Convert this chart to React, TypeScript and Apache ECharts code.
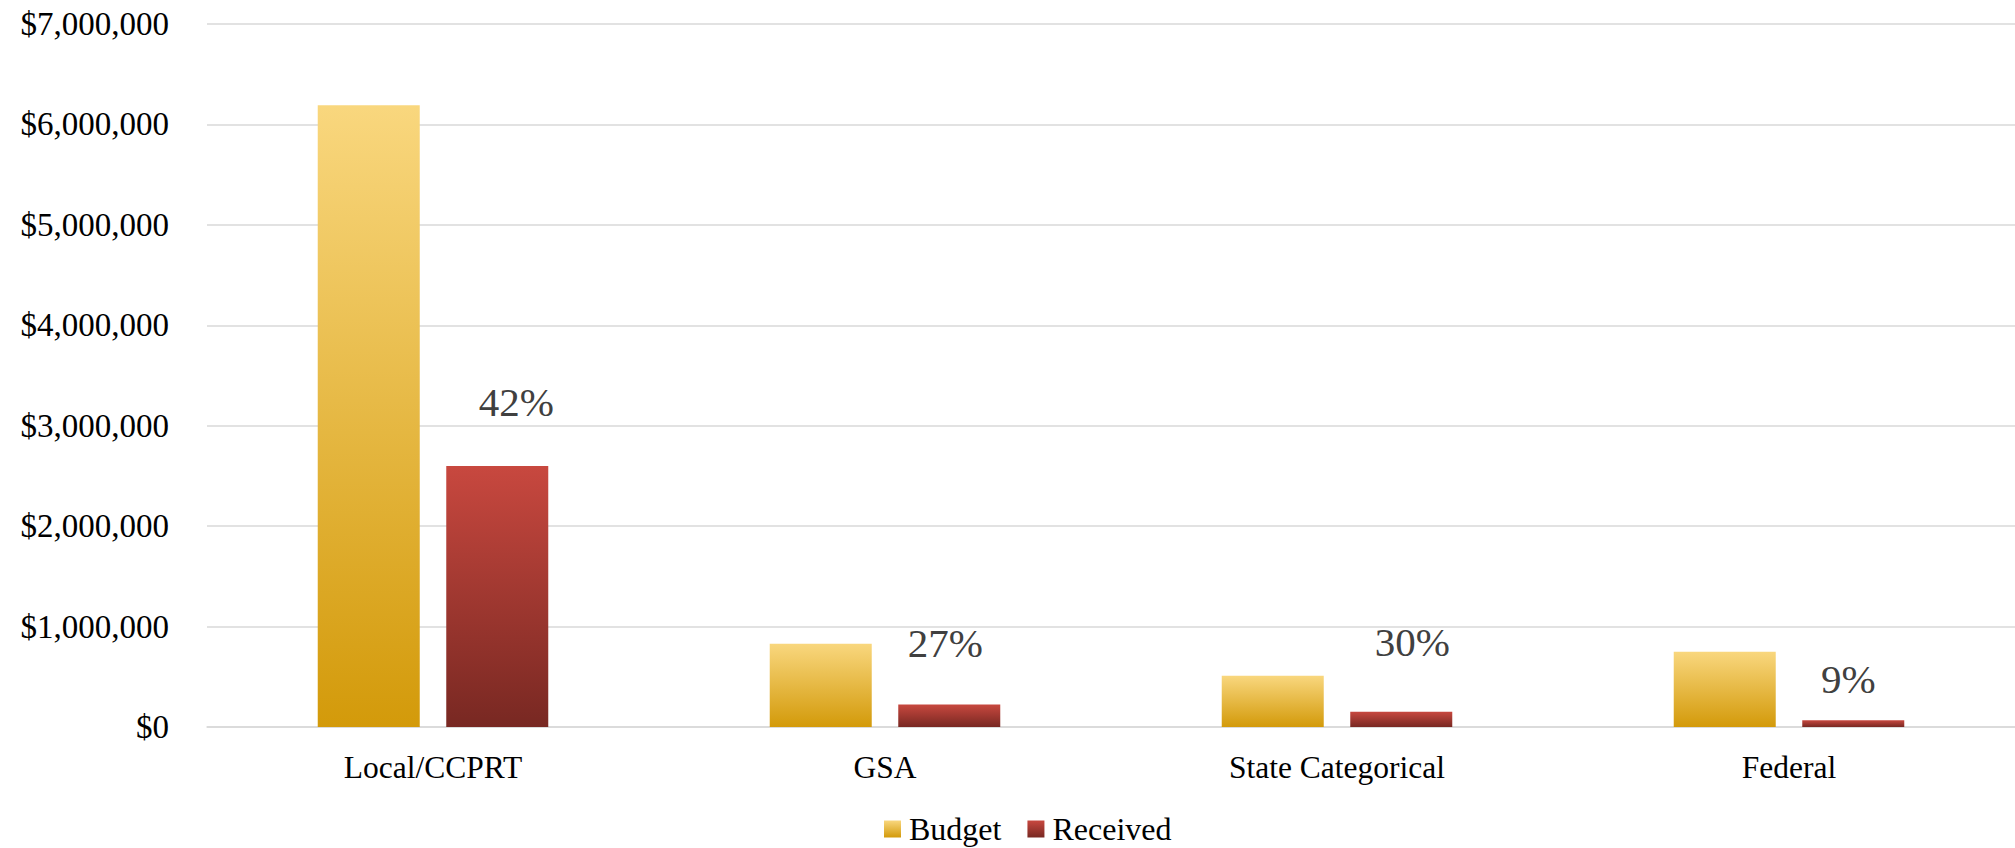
import React, { useEffect, useRef } from "react";
import * as echarts from "echarts";

const categories = ["Local/CCPRT", "GSA", "State Categorical", "Federal"];
const budget = [6190000, 830000, 510000, 750000];
const received = [2600000, 225000, 153000, 68000];
const percentLabels = ["42%", "27%", "30%", "9%"];
const labelOffsets: [number, number][] = [
  [19, -38],
  [-4, -36],
  [11, -44],
  [-5, -16],
];

const FONT = "'Liberation Serif', 'DejaVu Serif', serif";

export default function App() {
  const ref = useRef<HTMLDivElement>(null);
  useEffect(() => {
    if (!ref.current) return;
    const chart = echarts.init(ref.current, undefined, { renderer: "svg" });
    const budgetGrad = new echarts.graphic.LinearGradient(0, 0, 0, 1, [
      { offset: 0, color: "#F9D77E" },
      { offset: 1, color: "#D39A0A" },
    ]);
    const recGrad = new echarts.graphic.LinearGradient(0, 0, 0, 1, [
      { offset: 0, color: "#C8483F" },
      { offset: 1, color: "#782822" },
    ]);
    chart.setOption({
      animation: false,
      backgroundColor: "#ffffff",
      textStyle: { fontFamily: FONT },
      grid: { left: 207, right: 0, top: 24, bottom: 121, containLabel: false },
      legend: {
        left: 884,
        top: 813,
        padding: 0,
        itemWidth: 17,
        itemHeight: 17,
        itemGap: 26,
        icon: "rect",
        textStyle: { fontFamily: FONT, fontSize: 32, color: "#000000", padding: [0, 0, 0, 3], lineHeight: 30 },
        data: ["Budget", "Received"],
      },
      xAxis: {
        type: "category",
        data: categories,
        axisLine: { show: true, lineStyle: { color: "#d9d9d9", width: 1.5 } },
        axisTick: { show: false },
        axisLabel: { fontFamily: FONT, fontSize: 31.5, color: "#000000", margin: 24 },
      },
      yAxis: {
        type: "value",
        min: 0,
        max: 7000000,
        interval: 1000000,
        axisLine: { show: false },
        axisTick: { show: false },
        splitLine: { lineStyle: { color: "#d9d9d9", width: 1.5 } },
        axisLabel: {
          fontFamily: FONT,
          fontSize: 33,
          color: "#000000",
          margin: 38,
          formatter: (v: number) => "$" + v.toLocaleString("en-US"),
        },
      },
      series: [
        {
          name: "Budget",
          type: "bar",
          barWidth: 102,
          barGap: "26%",
          itemStyle: { color: budgetGrad },
          data: budget,
        },
        {
          name: "Received",
          type: "bar",
          barWidth: 102,
          itemStyle: { color: recGrad },
          data: received.map((v, i) => ({
            value: v,
            label: {
              show: true,
              position: "top",
              offset: labelOffsets[i],
              formatter: () => percentLabels[i],
              fontFamily: FONT,
              fontSize: 41,
              color: "#404040",
            },
          })),
        },
      ],
    });
    return () => chart.dispose();
  }, []);
  return <div ref={ref} style={{ width: 2015, height: 848, position: "absolute", left: 0, top: 0 }} />;
}
